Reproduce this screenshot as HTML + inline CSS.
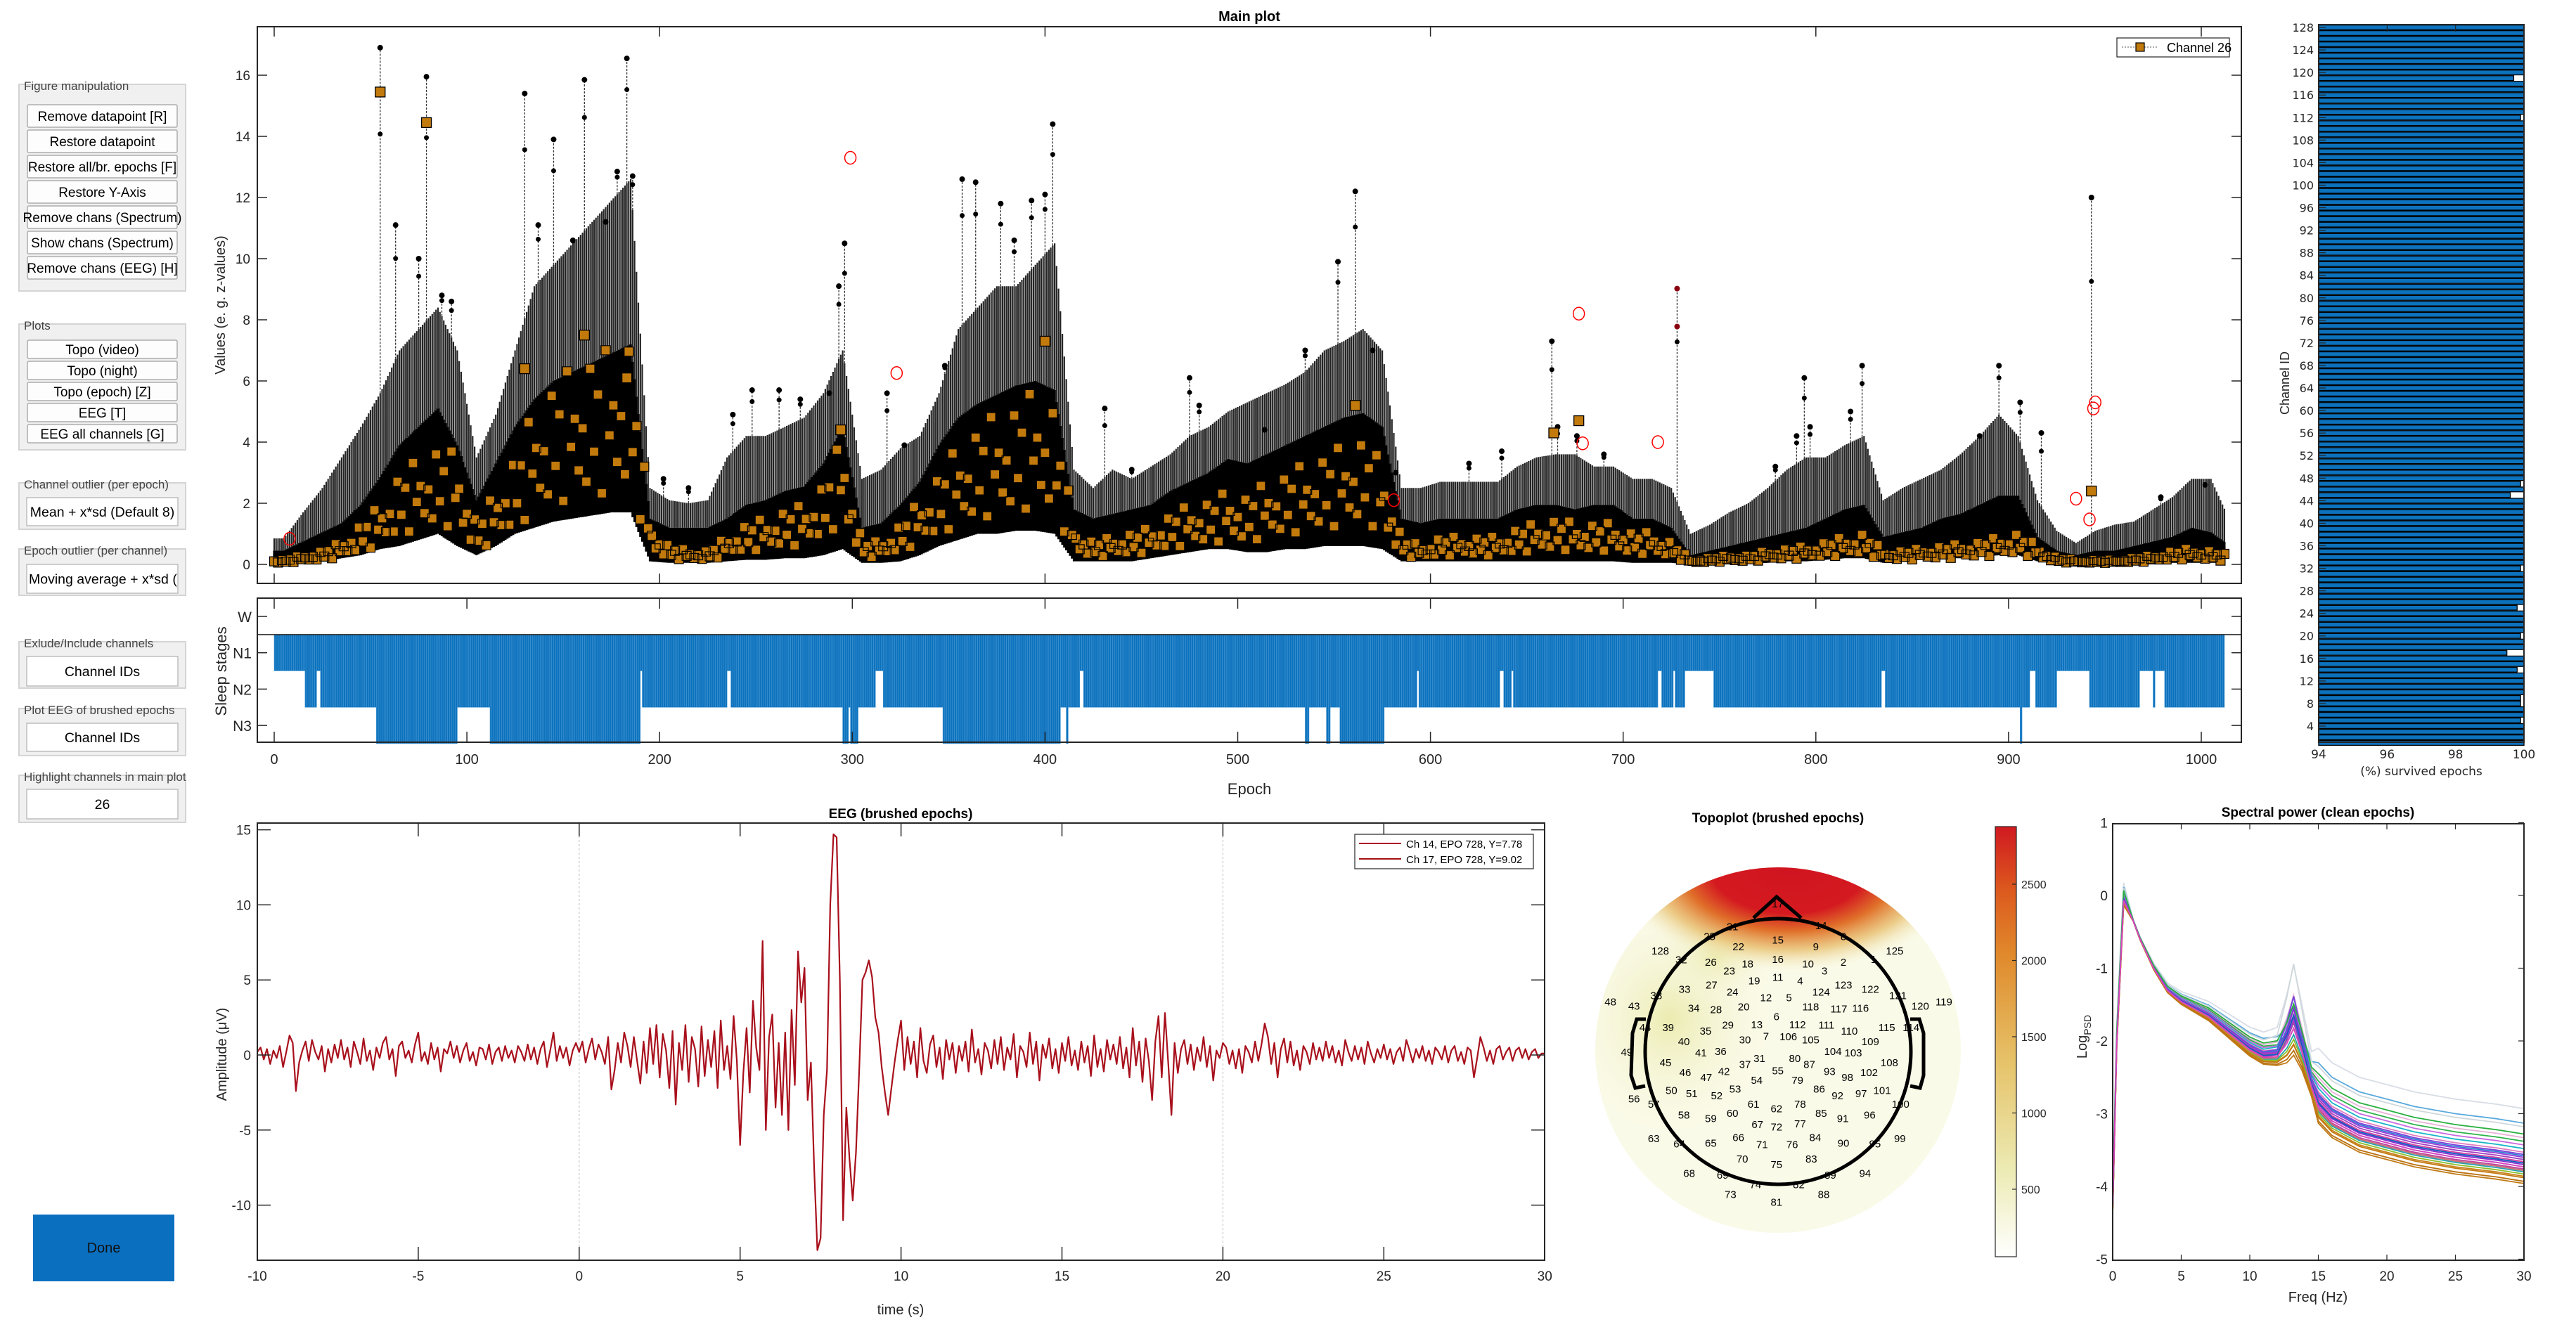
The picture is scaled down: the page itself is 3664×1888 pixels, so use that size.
<!DOCTYPE html>
<html><head><meta charset="utf-8">
<style>
html,body{margin:0;padding:0;background:#fff;}
svg{display:block;font-family:"Liberation Sans",Arial,sans-serif;}
</style></head>
<body>
<svg id="fig" xmlns="http://www.w3.org/2000/svg" width="3664" height="1888" viewBox="0 0 3664 1888">
<defs>
<clipPath id="clipMain"><rect x="366" y="38" width="2822" height="792"/></clipPath>
<clipPath id="clipEEG"><rect x="366" y="1171" width="1831" height="622"/></clipPath>
<clipPath id="clipSpec"><rect x="3005" y="1172" width="585" height="621"/></clipPath>
<clipPath id="clipTopo"><circle cx="2529" cy="1494" r="260"/></clipPath>
<linearGradient id="cbar" x1="0" y1="1" x2="0" y2="0">
<stop offset="0" stop-color="#ffffff"/><stop offset="0.2" stop-color="#ecebb4"/>
<stop offset="0.45" stop-color="#e6c36a"/><stop offset="0.7" stop-color="#e08a2c"/>
<stop offset="0.85" stop-color="#dc5a1e"/><stop offset="1" stop-color="#d01920"/>
</linearGradient>
<radialGradient id="redBlob" cx="0.5" cy="0.5" r="0.5">
<stop offset="0" stop-color="#d01420"/><stop offset="0.45" stop-color="#d41a20"/>
<stop offset="0.62" stop-color="#e0702a"/><stop offset="0.8" stop-color="#e8c070" stop-opacity="0.8"/>
<stop offset="1" stop-color="#f3f0c8" stop-opacity="0"/>
</radialGradient>
<radialGradient id="yBlob" cx="0.5" cy="0.5" r="0.5">
<stop offset="0" stop-color="#ecebb0"/><stop offset="1" stop-color="#f8f8e4" stop-opacity="0"/>
</radialGradient>
</defs>

<g id="leftPanel" font-size="19"></g>
<g id="mainPlot"></g>
<g id="sleepPlot"></g>
<g id="chanPlot"></g>
<g id="eegPlot"></g>
<g id="topoPlot"></g>
<g id="specPlot"></g>
</svg>
<script>
// ---------- DATA ----------
const binLower=[0,0.05,0.1,0.2,0.3,0.5,0.6,0.8,1.0,0.6,0.3,0.6,1.0,1.2,1.4,1.5,1.6,1.7,1.7,0.1,0.05,0.05,0.05,0.1,0.15,0.15,0.2,0.2,0.3,0.5,0.05,0.05,0.1,0.3,0.6,0.8,1.0,1.0,1.1,1.1,1.0,0.1,0.1,0.1,0.1,0.2,0.3,0.4,0.5,0.5,0.4,0.4,0.5,0.5,0.6,0.6,0.6,0.5,0.1,0.1,0.1,0.1,0.1,0.1,0.1,0.1,0.1,0.1,0.1,0.1,0.05,0.05,0.05,0,0,0,0.02,0.05,0.1,0.1,0.15,0.2,0.2,0.05,0.1,0.15,0.2,0.2,0.25,0.3,0.3,0.1,0.05,0,0,0,0,0,0.05,0.05,0.05,0.05];
const binUpper=[0.45,0.75,1.05,1.35,1.95,2.85,3.9,4.5,5.1,3.9,2.1,3.3,4.5,5.4,6.0,6.3,6.6,6.9,7.2,1.5,1.2,1.2,1.2,1.5,1.95,2.1,2.4,2.55,3.3,4.5,1.2,1.35,1.95,2.7,3.9,4.8,5.25,5.55,5.85,6.0,5.7,1.8,1.5,1.65,1.8,1.95,2.4,2.7,3.0,3.45,3.3,3.6,3.9,4.2,4.5,4.8,4.95,4.5,1.5,1.35,1.5,1.5,1.5,1.5,1.8,1.95,1.95,1.8,1.95,1.95,1.5,1.5,1.2,0.3,0.45,0.6,0.75,0.9,1.05,1.2,1.5,1.8,1.95,0.9,1.05,1.2,1.5,1.65,1.95,2.25,2.25,0.9,0.45,0.3,0.45,0.45,0.6,0.75,0.9,1.2,1.05,0.6];
const binForest=[0.85,1.7,2.5,3.5,4.5,5.6,7.0,7.7,8.4,7.0,3.5,4.9,7.0,9.1,9.8,10.5,11.2,11.9,12.6,2.5,2.1,2.0,2.1,3.5,4.2,4.2,4.5,4.8,5.6,7.0,2.8,3.1,3.8,4.2,5.6,7.7,8.4,9.1,9.1,9.8,10.5,3.1,2.5,3.1,2.8,3.2,3.6,4.2,4.5,5.0,5.3,5.6,5.9,6.3,7.0,7.3,7.7,7.0,2.5,2.5,2.7,2.7,2.7,2.7,3.2,3.5,3.6,3.6,3.2,3.2,2.8,2.8,2.5,1.0,1.3,1.7,2.0,2.5,3.1,3.5,3.5,3.9,4.2,2.1,2.5,2.8,3.1,3.6,4.2,4.9,4.2,2.1,1.1,0.7,1.1,1.3,1.4,1.8,2.2,2.8,2.8,1.4];
const binCh26=[0.1,0.2,0.3,0.5,0.9,1.3,2.0,2.3,2.6,2.4,0.9,1.6,2.4,3.4,4.0,4.3,4.6,4.7,5.0,0.9,0.4,0.3,0.3,0.6,0.9,1.0,1.2,1.3,1.8,2.8,0.5,0.5,0.9,1.4,2.0,2.6,3.0,3.3,3.5,3.8,3.5,0.8,0.5,0.6,0.7,0.8,1.1,1.3,1.4,1.6,1.5,1.8,2.0,2.2,2.4,2.6,2.8,2.2,0.6,0.4,0.6,0.6,0.6,0.6,0.8,0.9,1.0,0.9,0.9,0.9,0.7,0.7,0.5,0.1,0.15,0.2,0.2,0.3,0.35,0.4,0.5,0.6,0.7,0.3,0.3,0.35,0.4,0.45,0.5,0.6,0.7,0.4,0.15,0.1,0.1,0.1,0.15,0.2,0.3,0.35,0.3,0.2];
const ch26Spread=[1.0,0.6,1.4,0.8,1.2,0.5,1.5,0.9,1.1,0.7];
const nEpochs=1013;
const spikeEpochs=[55,63,75,79,87,92,130,137,145,155,161,172,178,183,186,202,215,238,248,262,273,288,293,296,318,327,348,357,364,377,384,393,400,404,431,445,475,480,514,535,552,561,570,582,620,637,663,666,676,690,728,779,790,794,797,818,824,885,895,906,917,943,979,1002];
const spikePeaks=[16.9,11.1,10.0,15.95,8.8,8.6,15.4,11.1,13.9,10.6,15.85,11.2,12.85,16.55,12.7,2.8,2.5,4.9,5.7,5.7,5.4,5.6,9.1,10.5,5.6,3.9,6.5,12.6,12.5,11.8,10.6,11.9,12.1,14.4,5.1,3.1,6.1,5.2,4.4,7.0,9.9,12.2,7.0,3.0,3.3,3.7,7.3,4.5,4.2,3.6,9.02,3.2,4.2,6.1,4.5,5.0,6.5,4.2,6.5,5.3,4.3,12.0,2.2,2.6];
const ch26HighEpochs=[55,79,130,161,183,294,400,561,664,677,943];
const ch26HighValues=[15.45,14.45,6.4,7.5,6.1,4.4,7.3,5.2,4.3,4.7,2.4];
const outlierEpochs=[8,299,323,581,677,679,718,935,942,944,945];
const outlierValues=[0.84,13.3,6.26,2.1,8.2,3.96,4.0,2.15,1.47,5.1,5.3];
const mainYTicks=[0,2,4,6,8,10,12,14,16];
const mainXTicks=[0,200,400,600,800,1000];
const stageStarts=[0,16,22,24,53,95,112,190,191,235,237,295,298,299,303,312,316,347,408,411,412,418,420,535,537,546,548,553,576,593,594,636,638,642,643,718,720,726,727,732,747,834,836,906,907,911,914,925,942,968,975,976,981,1012];
const stageValues=[1,2,1,2,3,2,3,1,2,1,2,3,2,3,2,1,2,3,2,3,2,1,2,3,2,3,2,3,2,1,2,1,2,1,2,1,2,1,2,1,2,1,2,3,2,1,2,1,2,1,2,1,2,0];
const stageLabels=["W","N1","N2","N3"];
const sleepXTicks=[0,100,200,300,400,500,600,700,800,900,1000];
const chanIds=Array.from({length:128},(_,i)=>i+1);
const chanReducedIds=[119,112,47,45,32,25,20,17,14,9,8,5];
const chanReducedVals=[99.7,99.9,99.9,99.6,99.9,99.8,99.9,99.5,99.8,99.9,99.9,99.9];
const chanYTicks=[4,8,12,16,20,24,28,32,36,40,44,48,52,56,60,64,68,72,76,80,84,88,92,96,100,104,108,112,116,120,124,128];
const chanXTicks=[94,96,98,100];
const eegStart=-10, eegStep=0.1;
const eegValues=[0.2,0.5,-0.3,0.4,-0.6,0.3,-0.2,0.6,-0.8,0.2,
1.3,0.8,-2.4,-0.5,0.3,0.9,-0.4,1.0,0.2,-0.3,
0.6,-1.1,0.4,-0.5,0.7,-0.2,1.0,-0.3,0.5,-0.8,
0.9,0.2,-0.6,1.1,-0.4,0.3,-1.0,0.5,-0.2,0.8,
1.2,-0.3,0.4,-1.4,0.6,0.9,-0.2,0.3,-0.5,0.7,
1.5,-0.4,0.2,-0.6,0.8,-0.3,0.5,-1.1,0.4,0.1,
0.9,-0.2,0.6,-0.5,0.3,0.8,-0.4,0.2,-0.7,0.5,
0.4,-0.3,0.7,-0.6,0.2,0.5,-0.4,0.6,-0.2,0.3,
-0.5,0.6,0.2,-0.4,0.7,-0.3,0.5,-0.6,0.4,0.9,
-0.8,0.3,1.5,-0.4,0.6,-0.2,0.5,-0.7,0.3,0.8,
0.2,0.9,-0.5,0.4,1.1,-0.3,0.7,0.2,-0.6,1.2,
-2.3,-1.0,0.8,-0.5,1.5,0.6,-0.8,1.2,-0.4,-1.9,
0.9,-1.2,1.8,-0.6,2.0,-1.5,1.4,0.3,-2.2,1.6,
-3.3,0.8,-1.0,2.0,-1.8,1.2,0.4,-2.1,1.9,-1.4,
1.0,-0.8,1.6,-2.2,2.3,-1.0,0.6,-1.6,2.6,-0.4,
-6.0,-1.2,1.8,-2.5,3.6,0.5,-1.0,7.6,-5.0,1.2,
2.7,-3.5,0.8,-4.0,1.5,-5.0,3.0,-2.0,6.9,3.5,
5.8,-3.0,-0.5,-7.5,-13.0,-12.2,-4.0,-1.0,10.0,14.7,
14.5,5.0,-11.0,-3.5,-7.0,-9.7,-6.5,-1.0,5.0,5.5,
6.3,5.2,2.5,1.5,-0.8,-2.5,-4.0,-2.2,-0.5,1.0,
2.3,-1.0,1.2,-0.6,0.9,-1.5,1.8,-0.4,-1.2,0.7,
1.3,-0.8,0.5,-1.6,1.0,-0.3,0.8,-1.2,0.6,-0.4,
0.9,-1.1,1.7,-0.5,0.4,-1.3,0.8,0.3,-0.9,1.0,
-0.6,1.2,-1.0,0.5,-0.3,1.4,-1.5,0.6,0.2,-0.8,
1.5,-0.6,0.9,-1.7,0.7,-0.2,1.1,-0.9,0.4,-1.2,
0.8,-0.4,1.2,-0.7,0.3,-1.0,0.9,-0.5,0.6,-1.4,
1.3,-0.8,0.4,-1.1,1.0,-0.3,0.7,-0.6,1.2,-0.9,
0.5,-1.5,1.8,-0.7,0.9,-1.8,1.1,-0.4,-3.0,0.9,
2.6,-1.5,2.8,-0.5,-4.0,0.8,-1.2,0.4,1.0,-0.6,
0.7,-1.0,0.5,-0.4,1.2,-0.8,0.6,-1.7,0.3,-0.2,
0.8,0.5,-0.6,0.3,-0.9,0.4,-1.2,0.6,0.2,-0.5,
0.9,-0.4,0.7,2.1,1.2,-0.6,0.8,-1.5,0.4,1.1,
-0.5,0.9,-0.7,0.3,-1.0,0.6,0.2,-0.6,0.8,-0.3,
0.5,-0.4,0.9,-0.2,0.6,-0.5,0.3,-0.7,1.0,0.2,
-0.4,0.6,-0.3,0.5,-0.6,0.9,0.1,-0.5,0.4,-0.2,
0.7,-0.3,0.4,-0.6,0.2,0.5,-0.4,1.0,0.3,-0.5,
0.4,-0.2,0.6,-0.4,0.3,-0.6,0.5,0.2,-0.3,0.6,
-0.5,0.3,0.6,-0.4,0.2,-0.6,0.5,0.3,-1.5,-0.2,
1.2,0.5,-0.4,0.3,-0.6,0.4,0.6,-0.3,0.2,0.5,
-0.4,0.3,0.5,-0.2,0.4,-0.3,0.2,0.4,-0.2,0.1,
0.1];
const eegXTicks=[-10,-5,0,5,10,15,20,25,30];
const eegYTicks=[-10,-5,0,5,10,15];
const specFreqs=[0,0.3,0.8,1.5,2,3,4,5,6,7,8,9,10,11,12,12.7,13.2,13.8,14.5,15,16,18,20,22,25,28,30];
const specBase=[-4.3,-2.0,-0.05,-0.35,-0.6,-1.0,-1.3,-1.45,-1.55,-1.65,-1.8,-1.95,-2.1,-2.2,-2.2,-2.1,-1.95,-2.2,-2.6,-2.85,-3.05,-3.25,-3.35,-3.45,-3.55,-3.62,-3.68];
const specOffsets=[0.75,0.55,0.5,0.35,0.3,0.25,0.2,0.15,0.12,0.1,0.05,0.02,0,-0.02,-0.05,-0.08,-0.1,-0.12,-0.15,-0.18,-0.2,-0.25,-0.28,-0.1,0.08,0.4,0.0,-0.05];
const specAlpha=[0.6,0.0,0.75,0.4,0.1,0.3,0.45,0.2,0.5,0.35,0.25,0.3,0.2,0.4,0.15,0.25,0.3,0.1,0.05,0.0,0.0,-0.05,-0.1,0.35,0.2,0.25,0.3,0.15];
const specColors=["#d8dde6","#5aa9dc","#cfd8dc","#e6b3d6","#2fb34a","#c86adf","#19b5c8","#e07cc0","#7b3fd9","#2f7fd6","#a23fc2","#d43fa0","#3a4fcf","#8a2fd0","#1b7dc2","#c03f9a","#5a5ad0","#26a0b0","#8bbf2a","#c9821a","#c47a14","#b8700e","#c07a16","#d07070","#9a3ad6","#2ab040","#1060c0","#e040c0"];
const specXTicks=[0,5,10,15,20,25,30];
const specYTicks=[1,0,-1,-2,-3,-4,-5];
const cbarTicks=[500,1000,1500,2000,2500];
const topoLabels=["17","21","14","25","8","15","22","9","128","125","32","26","18","16","10","2","1","23","3","19","11","4","33","27","24","123","122","124","38","121","12","5","48","43","34","28","20","118","117","116","120","119","6","44","39","35","29","13","112","111","110","115","114","40","30","7","106","105","109","49","41","36","104","103","45","37","31","80","87","108","46","42","55","93","98","102","47","54","79","56","57","50","51","52","53","86","92","97","101","100","61","62","78","58","59","60","85","91","96","67","72","77","63","64","65","66","71","76","84","90","95","99","70","75","83","68","69","89","94","74","82","73","88","81"];
const topoLX=[352,283,418,248,452,352,292,410,173,530,205,250,306,352,398,452,498,278,423,316,352,386,210,251,283,452,493,418,167,535,334,369,97,133,224,258,300,402,445,478,569,605,350,150,185,242,276,320,382,426,461,518,555,209,302,334,368,402,493,122,235,265,436,467,181,302,324,378,400,522,211,270,352,431,458,491,243,320,382,133,163,190,221,259,287,415,443,479,511,539,315,350,386,209,250,283,418,451,492,321,350,386,163,202,250,292,328,374,409,452,500,538,298,350,403,217,268,432,485,318,384,280,422,350];
const topoLY=[370,435,432,463,463,473,492,492,503,503,528,535,540,527,540,535,527,560,560,588,578,588,612,600,620,600,612,620,630,630,636,636,648,660,666,670,662,662,668,666,660,648,690,720,720,730,713,712,712,713,730,720,720,760,755,745,746,755,760,790,792,788,788,792,820,825,808,808,825,820,848,845,843,845,862,848,862,870,870,922,937,898,907,913,895,895,913,907,898,937,937,950,937,968,978,963,963,978,968,995,1002,993,1035,1050,1048,1032,1052,1052,1032,1048,1050,1035,1093,1108,1093,1133,1138,1138,1133,1165,1165,1193,1193,1215];

// ---------- HELPERS ----------
const NS="http://www.w3.org/2000/svg";
function mk(parent,tag,attrs,text){const e=document.createElementNS(NS,tag);for(const k in attrs)e.setAttribute(k,attrs[k]);if(text!==undefined)e.textContent=text;parent.appendChild(e);return e;}

// ---------- LEFT PANEL ----------
const lp=document.getElementById('leftPanel');
function group(title,y1,y2){
  const g=mk(lp,'g',{});
  
  
  mk(g,'rect',{x:27,y:y1+6,width:237,height:y2-y1-6,fill:'#f0f0f0',stroke:'#d4d4d4','stroke-width':2});
  const t=mk(g,'text',{x:34,y:y1+14,'font-size':17,fill:'#444'},title);
  
  
  return g;
}
function button(g,label,y,h){
  const b=mk(g,'g',{});
  
  
  mk(b,'rect',{x:39,y:y,width:213,height:h,fill:'#fdfdfd',stroke:'#adadad','stroke-width':1.5,rx:2});
  mk(b,'text',{x:145.5,y:y+h/2+7,'text-anchor':'middle','font-size':19,fill:'#000'},label);
}
function edit(g,label,y1,y2){
  const b=mk(g,'g',{});
  
  
  mk(b,'rect',{x:38,y:y1,width:215,height:y2-y1,fill:'#fff',stroke:'#bdbdbd','stroke-width':1.5});
  const cp=mk(b,'svg',{x:39,y:y1,width:213,height:y2-y1});
  mk(cp,'text',{x:106.5,y:(y2-y1)/2+7,'text-anchor':'middle','font-size':19.5,fill:'#000'},label);
}
let g1=group('Figure manipulation',114,414);
['Remove datapoint [R]','Restore datapoint','Restore all/br. epochs [F]','Restore Y-Axis','Remove chans (Spectrum)','Show chans (Spectrum)','Remove chans (EEG) [H]'].forEach((l,i)=>button(g1,l,149+36*i,32));
let g2=group('Plots',455,640);
['Topo (video)','Topo (night)','Topo (epoch) [Z]','EEG [T]','EEG all channels [G]'].forEach((l,i)=>button(g2,l,484+30*i,26));
edit(group('Channel outlier (per epoch)',681,753),'Mean + x*sd (Default 8)',708,748);
(function(){const g=group('Epoch outlier (per channel)',775,847);
  const b=mk(g,'g',{});
  
  
  mk(b,'rect',{x:38,y:803,width:215,height:41,fill:'#fff',stroke:'#bdbdbd','stroke-width':1.5});
  const cp=mk(b,'svg',{x:39,y:803,width:213,height:41});
  mk(cp,'text',{x:2,y:27.5,'font-size':19.5},'Moving average + x*sd (Default)');})();
edit(group('Exlude/Include channels',907,979),'Channel IDs',934,976);
edit(group('Plot EEG of brushed epochs',1002,1075),'Channel IDs',1029,1069);
edit(group('Highlight channels in main plot',1097,1170),'26',1123,1165);
(function(){const b=mk(lp,'g',{});
  
  
  mk(b,'rect',{x:47,y:1728,width:201,height:95,fill:'#0b6fc0'});
  mk(b,'text',{x:147.5,y:1782,'text-anchor':'middle','font-size':20,fill:'#111'},'Done');})();

// ---------- MAIN PLOT ----------
const mp=document.getElementById('mainPlot');
const mx=e=>390+e*2.741, my=v=>803-v*43.5;
mk(mp,'rect',{x:366,y:38,width:2822,height:792,fill:'#fff'});
const mt=mk(mp,'text',{x:1777,y:30,'text-anchor':'middle','font-size':20,'font-weight':'bold'},'Main plot');


const mclip=mk(mp,'g',{'clip-path':'url(#clipMain)'});
function binVal(arr,e){const p=e/10-0.5;const i=Math.max(0,Math.min(arr.length-1,Math.floor(p)));const j=Math.min(arr.length-1,i+1);const t=Math.max(0,Math.min(1,p-i));return arr[i]*(1-t)+arr[j]*t;}
let dF='';
for(let e=0;e<nEpochs;e++){ dF+=`M${mx(e).toFixed(1)},${my(binVal(binUpper,e)).toFixed(1)}V${my(binVal(binForest,e)).toFixed(1)}`;}
const forest=mk(mclip,'path',{d:dF,stroke:'#000',opacity:0.85,'stroke-width':2.2});


let dD='';
for(let e=0;e<nEpochs;e++){dD+=`M${mx(e).toFixed(1)},${my(binVal(binLower,e)).toFixed(1)}V${my(binVal(binUpper,e)).toFixed(1)}`;}
const dense=mk(mclip,'path',{d:dD,stroke:'#000','stroke-width':3.2});


spikeEpochs.forEach((e,i)=>{
  const g=mk(mclip,'g',{});
  
  
  const top=spikePeaks[i], base=Math.min(binVal(binForest,e),top);
  mk(g,'line',{x1:mx(e),x2:mx(e),y1:my(base),y2:my(top),stroke:'#333','stroke-width':1.3,'stroke-dasharray':'3 2'});
  const red=(e===728);
  mk(g,'circle',{cx:mx(e),cy:my(top),r:4,fill:red?'#8a0010':'#000'});
  mk(g,'circle',{cx:mx(e),cy:my(base+(top-base)*0.75),r:3.5,fill:'#000'});
  if(red) mk(g,'circle',{cx:mx(e),cy:my(7.78),r:4,fill:'#8a0010'});
});
let d26='';
for(let e=0;e<nEpochs;e+=2){const v=binVal(binCh26,e)*ch26Spread[(e/2)%ch26Spread.length];d26+=`M${(mx(e)-6.5).toFixed(1)},${(my(v)-6.5).toFixed(1)}h13v13h-13z`;}
const sq=mk(mclip,'path',{d:d26,fill:'#c27a0c',stroke:'#000','stroke-width':1.2});


ch26HighEpochs.forEach((e,i)=>{
  const r=mk(mclip,'rect',{x:mx(e)-7,y:my(ch26HighValues[i])-7,width:14,height:14,fill:'#c27a0c',stroke:'#000','stroke-width':1.3});
  
  
});
outlierEpochs.forEach((e,i)=>{
  const c=mk(mclip,'ellipse',{cx:mx(e),cy:my(outlierValues[i]),rx:8,ry:9,fill:'none',stroke:'#f00','stroke-width':1.5});
  
  
});
mk(mp,'rect',{x:366,y:38,width:2822,height:792,fill:'none',stroke:'#262626','stroke-width':2});
mainYTicks.forEach(v=>{
  mk(mp,'line',{x1:366,x2:380,y1:my(v),y2:my(v),stroke:'#262626','stroke-width':1.5});
  mk(mp,'line',{x1:3174,x2:3188,y1:my(v),y2:my(v),stroke:'#262626','stroke-width':1.5});
  const t=mk(mp,'text',{x:356,y:my(v)+7,'text-anchor':'end','font-size':19,fill:'#262626'},String(v));
  
  
});
mainXTicks.forEach(v=>{
  mk(mp,'line',{x1:mx(v),x2:mx(v),y1:38,y2:52,stroke:'#262626','stroke-width':1.5});
  mk(mp,'line',{x1:mx(v),x2:mx(v),y1:816,y2:830,stroke:'#262626','stroke-width':1.5});
});
const yl=mk(mp,'text',{x:0,y:0,transform:'translate(320,434) rotate(-90)','text-anchor':'middle','font-size':20,fill:'#262626'},'Values (e. g. z-values)');


(function(){const g=mk(mp,'g',{});
  
  
  mk(g,'rect',{x:3011,y:54,width:160,height:27,fill:'#fff',stroke:'#262626','stroke-width':1.2});
  mk(g,'line',{x1:3018,x2:3070,y1:67,y2:67,stroke:'#555','stroke-width':1,'stroke-dasharray':'2 2'});
  mk(g,'rect',{x:3038,y:61,width:12,height:12,fill:'#c27a0c',stroke:'#000','stroke-width':1.2});
  mk(g,'text',{x:3082,y:74,'font-size':18},'Channel 26');})();

// ---------- SLEEP PLOT ----------
const sp=document.getElementById('sleepPlot');
const sy=s=>877+s*51.7;
let dS='';
for(let k=0;k<stageStarts.length-1;k++){
  const st=stageValues[k]; if(!st) continue;
  for(let e=stageStarts[k];e<stageStarts[k+1];e++){dS+=`M${mx(e).toFixed(1)},${sy(0.5).toFixed(1)}h2.74V${sy(st+0.5).toFixed(1)}h-2.74z`;}
}
const bars=mk(sp,'path',{d:dS,fill:'#0d72bd',stroke:'#4a9ad6','stroke-width':0.6});


mk(sp,'line',{x1:366,x2:3188,y1:sy(0.5),y2:sy(0.5),stroke:'#262626','stroke-width':1.5});
mk(sp,'rect',{x:366,y:851,width:2822,height:205,fill:'none',stroke:'#262626','stroke-width':2});
stageLabels.forEach((l,i)=>{
  mk(sp,'line',{x1:366,x2:380,y1:sy(i),y2:sy(i),stroke:'#262626','stroke-width':1.5});
  mk(sp,'line',{x1:3174,x2:3188,y1:sy(i),y2:sy(i),stroke:'#262626','stroke-width':1.5});
  const t=mk(sp,'text',{x:358,y:sy(i)+8,'text-anchor':'end','font-size':21,fill:'#262626'},l);
  
  
});
sleepXTicks.forEach(v=>{
  mk(sp,'line',{x1:mx(v),x2:mx(v),y1:851,y2:866,stroke:'#262626','stroke-width':1.5});
  mk(sp,'line',{x1:mx(v),x2:mx(v),y1:1041,y2:1056,stroke:'#262626','stroke-width':1.5});
  const t=mk(sp,'text',{x:mx(v),y:1087,'text-anchor':'middle','font-size':20,fill:'#262626'},String(v));
  
  
});
const ex=mk(sp,'text',{x:1777,y:1130,'text-anchor':'middle','font-size':22,fill:'#262626'},'Epoch');


const ss=mk(sp,'text',{x:0,y:0,transform:'translate(322,955) rotate(-90)','text-anchor':'middle','font-size':22,fill:'#262626'},'Sleep stages');



// ---------- CHANNEL SURVIVAL ----------
const cp=document.getElementById('chanPlot');
const cx=v=>3298+(v-94)*48.67, cy=c=>1033-(c-4)*8.016;
chanIds.forEach(c=>{
  const k=chanReducedIds.indexOf(c); const v=k>=0?chanReducedVals[k]:100;
  const r=mk(cp,'rect',{x:3298,y:cy(c)-3.4,width:cx(v)-3298,height:6.8,fill:'#0d72bd',stroke:'#000','stroke-width':1.3});
  
  
});
mk(cp,'rect',{x:3298,y:35,width:292,height:1021,fill:'none',stroke:'#262626','stroke-width':2});
chanYTicks.forEach(c=>{
  mk(cp,'line',{x1:3298,x2:3308,y1:cy(c),y2:cy(c),stroke:'#262626','stroke-width':1.2});
  const t=mk(cp,'text',{x:3291,y:cy(c)+6,'text-anchor':'end','font-size':16,'font-family':'DejaVu Sans, sans-serif',fill:'#262626'},String(c));
  
  
});
chanXTicks.forEach(v=>{
  mk(cp,'line',{x1:cx(v),x2:cx(v),y1:35,y2:45,stroke:'#262626','stroke-width':1.2});
  const t=mk(cp,'text',{x:cx(v),y:1079,'text-anchor':'middle','font-size':17,'font-family':'DejaVu Sans, sans-serif',fill:'#262626'},String(v));
  
  
});
mk(cp,'text',{x:3444,y:1103,'text-anchor':'middle','font-size':17,'font-family':'DejaVu Sans, sans-serif',fill:'#262626'},'(%) survived epochs');
mk(cp,'text',{x:0,y:0,transform:'translate(3256,545) rotate(-90)','text-anchor':'middle','font-size':18,fill:'#262626'},'Channel ID');

// ---------- EEG ----------
const ep=document.getElementById('eegPlot');
const exs=t=>366+(t+10)*45.78, eys=v=>1501-v*21.36;
mk(ep,'text',{x:1281,y:1164,'text-anchor':'middle','font-size':19,'font-weight':'bold'},'EEG (brushed epochs)');
[0,20].forEach(t=>mk(ep,'line',{x1:exs(t),x2:exs(t),y1:1171,y2:1793,stroke:'#bbb','stroke-width':1,'stroke-dasharray':'3 3'}));
const ec=mk(ep,'g',{'clip-path':'url(#clipEEG)'});
let dE='';
eegValues.forEach((v,i)=>{dE+=(i?'L':'M')+exs(eegStart+i*eegStep).toFixed(1)+','+eys(v).toFixed(1);});
const tr=mk(ec,'path',{d:dE,fill:'none',stroke:'#a8101c','stroke-width':2.2,'stroke-linejoin':'round'});


mk(ep,'rect',{x:366,y:1171,width:1831,height:622,fill:'none',stroke:'#262626','stroke-width':2});
eegXTicks.forEach(t=>{
  mk(ep,'line',{x1:exs(t),x2:exs(t),y1:1171,y2:1190,stroke:'#262626','stroke-width':1.5});
  mk(ep,'line',{x1:exs(t),x2:exs(t),y1:1774,y2:1793,stroke:'#262626','stroke-width':1.5});
  const l=mk(ep,'text',{x:exs(t),y:1822,'text-anchor':'middle','font-size':19,fill:'#262626'},String(t));
  
  
});
eegYTicks.forEach(v=>{
  mk(ep,'line',{x1:366,x2:385,y1:eys(v),y2:eys(v),stroke:'#262626','stroke-width':1.5});
  mk(ep,'line',{x1:2178,x2:2197,y1:eys(v),y2:eys(v),stroke:'#262626','stroke-width':1.5});
  const l=mk(ep,'text',{x:357,y:eys(v)+7,'text-anchor':'end','font-size':19,fill:'#262626'},String(v));
  
  
});
mk(ep,'text',{x:1281,y:1870,'text-anchor':'middle','font-size':20,fill:'#262626'},'time (s)');
mk(ep,'text',{x:0,y:0,transform:'translate(322,1500) rotate(-90)','text-anchor':'middle','font-size':20,fill:'#262626'},'Amplitude (μV)');
(function(){const g=mk(ep,'g',{});
  
  
  mk(g,'rect',{x:1927,y:1187,width:254,height:49,fill:'#fff',stroke:'#262626','stroke-width':1.2});
  mk(g,'line',{x1:1933,x2:1993,y1:1200,y2:1200,stroke:'#b0102a','stroke-width':2});
  mk(g,'line',{x1:1933,x2:1993,y1:1222,y2:1222,stroke:'#a51010','stroke-width':2});
  mk(g,'text',{x:2000,y:1206,'font-size':15},'Ch 14, EPO 728, Y=7.78');
  mk(g,'text',{x:2000,y:1228,'font-size':15},'Ch 17, EPO 728, Y=9.02');})();

// ---------- TOPOPLOT ----------
const tp=document.getElementById('topoPlot');
mk(tp,'text',{x:2529,y:1170,'text-anchor':'middle','font-size':19,'font-weight':'bold'},'Topoplot (brushed epochs)');
const tc=mk(tp,'g',{'clip-path':'url(#clipTopo)'});
mk(tc,'rect',{x:2260,y:1230,width:540,height:530,fill:'#fafae8'});
mk(tc,'ellipse',{cx:2375,cy:1450,rx:150,ry:170,fill:'url(#yBlob)'});
mk(tc,'ellipse',{cx:2440,cy:1360,rx:90,ry:70,fill:'url(#yBlob)'});
mk(tc,'ellipse',{cx:2545,cy:1232,rx:250,ry:150,fill:'url(#redBlob)'});
const head=mk(tp,'g',{fill:'none',stroke:'#000','stroke-width':5});


mk(head,'ellipse',{cx:2529,cy:1496,rx:189,ry:189});
mk(head,'path',{d:'M2494,1306 L2527,1276 L2562,1306'});
mk(head,'path',{d:'M2341,1450 L2328,1450 L2322,1470 L2320,1530 L2326,1548 L2340,1545'});
mk(head,'path',{d:'M2717,1450 L2730,1450 L2736,1470 L2736,1530 L2731,1548 L2717,1545'});
topoLabels.forEach((l,i)=>{
  const t=mk(tp,'text',{x:(topoLX[i]/1.071+2200).toFixed(1),y:(topoLY[i]/1.99+1100+5).toFixed(1),'text-anchor':'middle','font-size':15,fill:'#000'},l);
  
  
});
const cby=v=>1692-(v-500)*0.217;
const cb=mk(tp,'rect',{x:2838,y:1176,width:30,height:612,fill:'url(#cbar)',stroke:'#262626','stroke-width':1.2});


cbarTicks.forEach(v=>{
  mk(tp,'line',{x1:2862,x2:2868,y1:cby(v),y2:cby(v),stroke:'#262626','stroke-width':1.2});
  const t=mk(tp,'text',{x:2875,y:cby(v)+6,'font-size':16,fill:'#262626'},String(v));
  
  
});

// ---------- SPECTRUM ----------
const pp=document.getElementById('specPlot');
const fx=f=>3005+f*19.5, fy=v=>1274-v*103.5;
mk(pp,'text',{x:3297,y:1162,'text-anchor':'middle','font-size':19,'font-weight':'bold'},'Spectral power (clean epochs)');
const pc=mk(pp,'g',{'clip-path':'url(#clipSpec)'});
specOffsets.forEach((off,k)=>{
  let d='';
  specFreqs.forEach((f,i)=>{
    const w=Math.min(1,Math.max(0,(f-1)/14));
    const a=specAlpha[k]*Math.exp(-Math.pow((f-13.2)/0.7,2));
    const v=specBase[i]+off*w*(f<15?0.6:1)+a+(f<1?off*0.3:0);
    d+=(i?'L':'M')+fx(f).toFixed(1)+','+fy(v).toFixed(1);
  });
  const p=mk(pc,'path',{d:d,fill:'none',stroke:specColors[k],'stroke-width':1.8});
  
  
});
mk(pp,'rect',{x:3005,y:1172,width:585,height:621,fill:'none',stroke:'#262626','stroke-width':2});
specXTicks.forEach(f=>{
  mk(pp,'line',{x1:fx(f),x2:fx(f),y1:1172,y2:1180,stroke:'#262626','stroke-width':1.2});
  mk(pp,'line',{x1:fx(f),x2:fx(f),y1:1785,y2:1793,stroke:'#262626','stroke-width':1.2});
  const t=mk(pp,'text',{x:fx(f),y:1822,'text-anchor':'middle','font-size':19,fill:'#262626'},String(f));
  
  
});
specYTicks.forEach(v=>{
  mk(pp,'line',{x1:3582,x2:3590,y1:fy(v),y2:fy(v),stroke:'#262626','stroke-width':1.2});
  const t=mk(pp,'text',{x:2998,y:fy(v)+7,'text-anchor':'end','font-size':19,fill:'#262626'},String(v));
  
  
});
mk(pp,'text',{x:3297,y:1852,'text-anchor':'middle','font-size':20,fill:'#262626'},'Freq (Hz)');
(function(){const t=mk(pp,'text',{x:0,y:0,transform:'translate(2968,1475) rotate(-90)','text-anchor':'middle','font-size':20,fill:'#262626'});
  mk(t,'tspan',{},'Log');mk(t,'tspan',{'font-size':14,dy:6},'PSD');})();
</script>
</body></html>
